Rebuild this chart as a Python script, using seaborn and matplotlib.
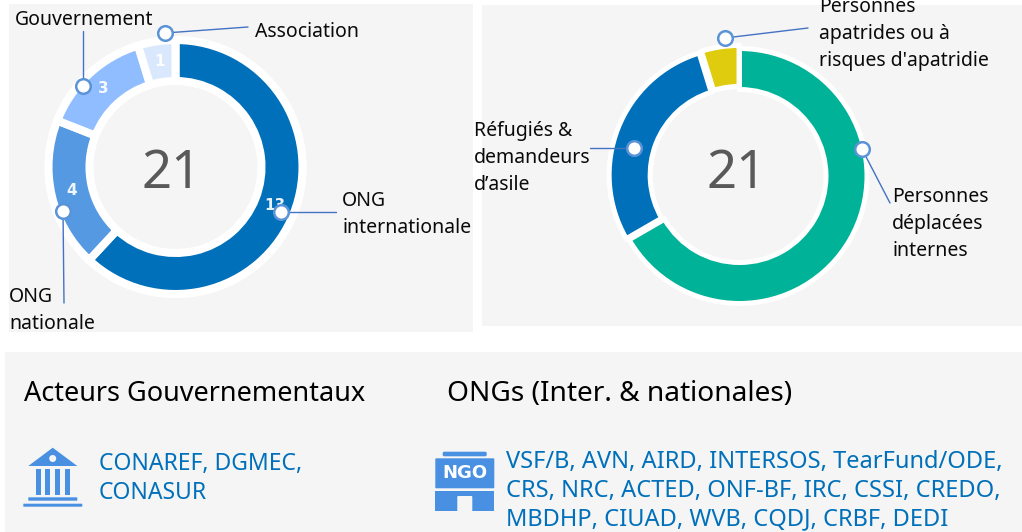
import matplotlib
matplotlib.use("Agg")
import matplotlib.pyplot as plt
import matplotlib.patches as mpatches
import seaborn as sns

# valeurs des deux anneaux
acteurs_valeurs = [13, 4, 3, 1]
acteurs_couleurs = ["#0070BA", "#5599E2", "#8FBDFF", "#DAE8FD"]
statut_valeurs = [14, 6, 1]
statut_couleurs = ["#00B398", "#0070BA", "#E0CC0E"]
statut_explode = [0, 0.024, 0.024]

total = 21
acteurs_gouv = ["CONAREF, DGMEC,", "CONASUR"]
ongs = ["VSF/B, AVN, AIRD, INTERSOS, TearFund/ODE,",
        "CRS, NRC, ACTED, ONF-BF, IRC, CSSI, CREDO,",
        "MBDHP, CIUAD, WVB, CQDJ, CRBF, DEDI"]

# étiquettes : texte, x, y du centre de la première ligne
etiquettes = [
    ("Gouvernement", 15, 20),
    ("Association", 255, 32),
    ("ONG\ninternationale", 342, 201),
    ("ONG\nnationale", 9, 297),
    ("Personnes\napatrides ou à\nrisques d'apatridie", 819, 7),
    ("Réfugiés &\ndemandeurs\nd’asile", 474, 131),
    ("Personnes\ndéplacées\ninternes", 892, 197),
]
# repères : cercle puis extrémité du trait
reperes = [
    (165, 33, 248, 27), (83, 86, 83, 31), (63, 211, 64, 303), (281, 212, 336, 212),
    (725, 38, 808, 28), (634, 148, 590, 148), (862, 149, 890, 203),
]

sns.set_theme(style="white")
plt.rcParams["font.family"] = ["Noto Sans", "DejaVu Sans"]

W, H = 1022, 532
fig = plt.figure(figsize=(W / 100, H / 100), dpi=100, facecolor="white")

fond = fig.add_axes([0, 0, 1, 1], zorder=0)
fond.set_xlim(0, W)
fond.set_ylim(H, 0)
fond.axis("off")
for x, y, w, h in [(9, 4, 464, 328), (482, 5, 540, 321), (5, 352, 1017, 180)]:
    fond.add_patch(mpatches.Rectangle((x, y), w, h, color="#F5F5F5", lw=0))


def anneau(cx, cy, r, largeur, anneau_ext, anneau_int, valeurs, couleurs, trait, explode=None, autopct=None):
    # axe carré placé en pixels, 1 unité = r pixels
    cote = anneau_ext + 12
    ax = fig.add_axes([(cx - cote) / W, 1 - (cy + cote) / H, 2 * cote / W, 2 * cote / H], zorder=1)
    ax.pie([1], radius=anneau_ext / r, colors=["white"],
           wedgeprops={"width": (anneau_ext - anneau_int) / r, "linewidth": 0})
    res = ax.pie(valeurs, radius=1, colors=couleurs, startangle=90, counterclock=False,
                 explode=explode, autopct=autopct, pctdistance=0.84,
                 wedgeprops={"width": largeur / r, "edgecolor": "white", "linewidth": trait})
    if autopct:
        for t in res[2]:
            t.set_color("white")
            t.set_alpha(0.92)
            t.set_fontsize(11)
            t.set_fontweight("bold")
            t.set_fontfamily("DejaVu Sans")
    ax.set_xlim(-cote / r, cote / r)
    ax.set_ylim(-cote / r, cote / r)
    return ax


anneau(175.5, 167, 127, 41, 131, 85, acteurs_valeurs, acteurs_couleurs, 5.8,
       autopct=lambda p: f"{round(p * total / 100)}")
anneau(739.5, 176, 127.5, 41, 127, 87, statut_valeurs, statut_couleurs, 3.6, explode=statut_explode)

ax = fig.add_axes([0, 0, 1, 1], zorder=2)
ax.set_xlim(0, W)
ax.set_ylim(H, 0)
ax.axis("off")

for x0, y0, x1, y1 in reperes:
    ax.plot([x0, x1], [y0, y1], color="#4472C4", lw=1, zorder=3)
    ax.plot(x0, y0, "o", ms=10.5, mfc="white", mec="#5B94D6", mew=1.8, zorder=4)

ax.text(172, 174, str(total), fontsize=38, color="#595959", ha="center", va="center")
ax.text(737, 175, str(total), fontsize=38, color="#595959", ha="center", va="center")

for texte, x, y in etiquettes:
    for i, ligne in enumerate(texte.split("\n")):
        ax.text(x, y + i * 27.2, ligne, fontsize=14, color="#0A0A0A", va="center", zorder=5)

ax.text(24, 394, "Acteurs Gouvernementaux", fontsize=19.5, color="black", va="center")
ax.text(447, 394, "ONGs (Inter. & nationales)", fontsize=20.2, color="black", va="center")
for i, ligne in enumerate(acteurs_gouv):
    ax.text(99, 464 + i * 29, ligne, fontsize=16.5, color="#0070BA", va="center")
for i, ligne in enumerate(ongs):
    ax.text(506, 462 + i * 28.5, ligne, fontsize=17, color="#0070BA", va="center")

# icône bâtiment
bleu = "#4A90E2"
ax.add_patch(mpatches.Polygon([(52.7, 447.7), (77.3, 466), (28.3, 466)], color=bleu, lw=0))
ax.add_patch(mpatches.Circle((52.7, 458.5), 3.5, color="#F5F5F5", lw=0))
for x, w in [(36, 4.7), (45.3, 4.7), (55, 5), (65, 5)]:
    ax.add_patch(mpatches.Rectangle((x, 469), w, 26, color=bleu, lw=0))
ax.add_patch(mpatches.FancyBboxPatch((28.8, 497.8), 48, 2.4, boxstyle="round,pad=0.5", color=bleu, lw=0))
ax.add_patch(mpatches.FancyBboxPatch((23.8, 504.2), 58, 2.0, boxstyle="round,pad=0.5", color=bleu, lw=0))

# icône NGO
ax.add_patch(mpatches.FancyBboxPatch((444.2, 453.2), 41, 1.6, boxstyle="round,pad=1.5", color=bleu, lw=0))
ax.add_patch(mpatches.FancyBboxPatch((436.3, 459.3), 57, 28, boxstyle="round,pad=1", color=bleu, lw=0))
ax.add_patch(mpatches.Rectangle((435.3, 491), 58.7, 20, color=bleu, lw=0))
ax.add_patch(mpatches.FancyBboxPatch((458.3, 497), 13, 14, boxstyle="round,pad=1", color="#F5F5F5", lw=0))
ax.text(464.7, 473.5, "NGO", fontsize=13, fontweight="bold", family="DejaVu Sans", color="white", ha="center", va="center")

fig.savefig("out.png", dpi=100)
